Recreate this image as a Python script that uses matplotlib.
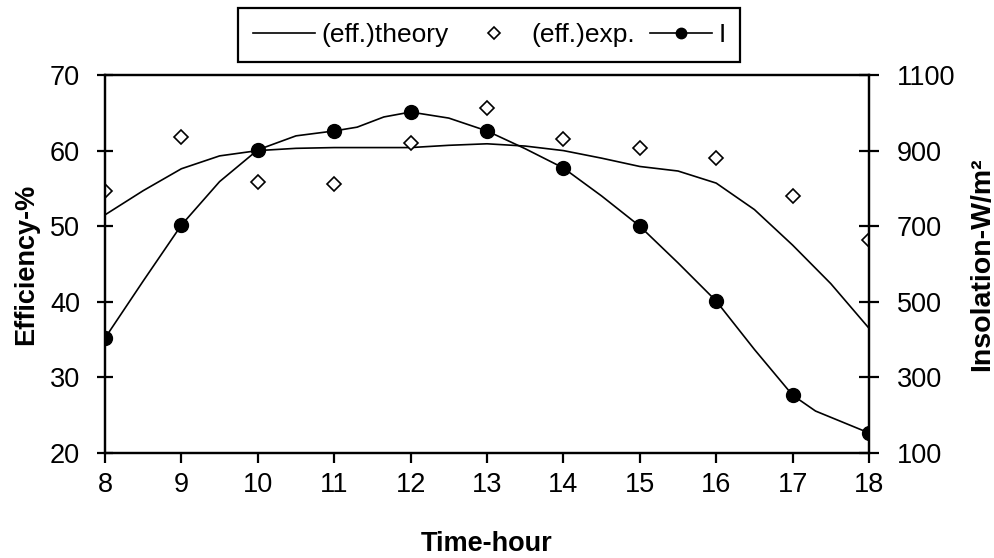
import matplotlib
matplotlib.use("Agg")
import matplotlib.pyplot as plt
from matplotlib.lines import Line2D

plt.rcParams['font.family'] = ['Liberation Sans', 'DejaVu Sans']

# Efficiency (theory) line, read at half-hour steps
theory_hours = [8, 8.5, 9, 9.5, 10, 10.5, 11, 11.5, 12, 12.5, 13, 13.5, 14, 14.5,
                15, 15.5, 16, 16.5, 17, 17.5, 18]
theory_eff = [51.5, 54.7, 57.6, 59.3, 60.0, 60.3, 60.4, 60.4, 60.4, 60.7, 60.9, 60.6,
              60.0, 59.0, 57.9, 57.3, 55.7, 52.2, 47.5, 42.4, 36.5]

# Experimental efficiency (hourly)
hours = [8, 9, 10, 11, 12, 13, 14, 15, 16, 17, 18]
exp_eff = [54.7, 61.8, 55.8, 55.6, 61.0, 65.6, 61.5, 60.3, 59.0, 54.0, 48.2]

# Insolation: hourly measured points and the curve line read at finer steps
insol = [404, 703, 902, 952, 1002, 952, 854, 700, 502, 253, 153]
insol_line_hours = [8, 8.5, 9, 9.5, 10, 10.5, 11, 11.3, 11.65, 12, 12.5, 13, 13.5, 14,
                    14.5, 15, 15.5, 16, 16.5, 17, 17.3, 18]
insol_line = [404, 555, 703, 818, 902, 939, 952, 962, 989, 1002, 986, 952, 905, 854,
              780, 700, 603, 502, 374, 253, 211, 153]

left_ticks = [20, 30, 40, 50, 60, 70]
right_ticks = [100, 300, 500, 700, 900, 1100]

fig = plt.figure(figsize=(9.94, 5.58), dpi=100)
ax1 = fig.add_axes([105/994, 1-453/558, (869-105)/994, (453-75)/558])
ax2 = ax1.twinx()

fs = 19.5
l1, = ax1.plot(theory_hours, theory_eff, color='black', lw=1.2, label='(eff.)theory')
l2, = ax1.plot(hours, exp_eff, linestyle='none', marker='D', markersize=7.5,
               markerfacecolor='white', markeredgecolor='black', markeredgewidth=1.2,
               label='(eff.)exp.')
ax2.plot(insol_line_hours, insol_line, color='black', lw=1.2)
ax2.plot(hours, insol, linestyle='none', marker='o', markersize=10,
         markerfacecolor='black', markeredgecolor='black')
l3 = Line2D([], [], color='black', lw=1.2, marker='o', markersize=10,
            markerfacecolor='black', label='I')

ax1.set_xlim(8, 18)
ax1.set_ylim(20, 70)
ax2.set_ylim(100, 1100)
ax1.set_xticks(hours)
ax1.set_yticks(left_ticks)
ax2.set_yticks(right_ticks)

for ax in (ax1, ax2):
    for s in ax.spines.values():
        s.set_linewidth(1.6)
ax1.tick_params(axis='x', direction='out', length=7.5, width=1.6, labelsize=fs, pad=6)
ax1.tick_params(axis='y', direction='inout', length=11, width=1.6, labelsize=fs, pad=12.5)
ax2.tick_params(axis='y', direction='inout', length=15, width=1.6, labelsize=fs, pad=12.5)

ax1.set_xlabel('Time-hour', fontsize=fs, fontweight='bold', labelpad=24)
ax1.set_ylabel('Efficiency-%', fontsize=fs, fontweight='bold', labelpad=8)
ax2.set_ylabel('Insolation-W/m²', fontsize=20.5, fontweight='bold', labelpad=10)

leg = fig.legend(handles=[l1, l2, l3], loc='center', bbox_to_anchor=(489/994, 1-35/558),
                 ncol=3, fontsize=19, frameon=True, fancybox=False, edgecolor='black',
                 framealpha=1, numpoints=1, markerscale=0.75, handlelength=2.35,
                 columnspacing=0.55, handletextpad=0.25, borderpad=0.55)
leg.get_frame().set_linewidth(1.6)

fig.savefig('out.png', dpi=100)
